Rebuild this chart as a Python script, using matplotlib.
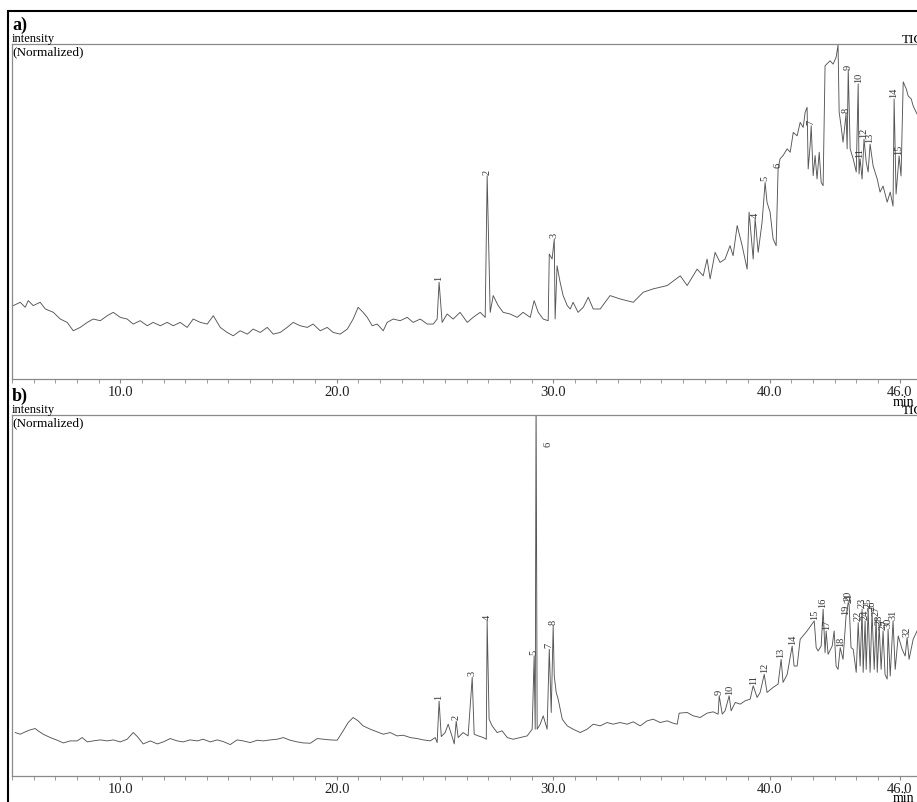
import matplotlib
matplotlib.use("Agg")
import matplotlib.pyplot as plt
from matplotlib.patches import Rectangle
from matplotlib.ticker import FixedLocator, MultipleLocator

# ---- data (time in min, intensity in % of panel height)
TIME_A = [5.06, 5.38, 5.61, 5.75, 5.98, 6.30, 6.54, 6.91, 7.23, 7.55, 7.83, 8.15, 8.48, 8.75,
          9.08, 9.40, 9.68, 10.00, 10.32, 10.60, 10.92, 11.25, 11.52, 11.85, 12.17, 12.45,
          12.77, 13.09, 13.37, 13.70, 14.02, 14.30, 14.62, 14.94, 15.22, 15.54, 15.87, 16.14,
          16.47, 16.79, 17.07, 17.39, 17.71, 17.99, 18.31, 18.64, 18.91, 19.24, 19.56, 19.84,
          20.16, 20.49, 20.76, 20.99, 21.22, 21.41, 21.64, 21.87, 22.15, 22.33, 22.61, 22.93,
          23.26, 23.53, 23.86, 24.18, 24.46, 24.64, 24.73, 24.87, 25.10, 25.38, 25.70, 26.03,
          26.30, 26.63, 26.86, 26.95, 27.09, 27.23, 27.46, 27.69, 28.01, 28.34, 28.61, 28.94,
          29.12, 29.31, 29.54, 29.77, 29.82, 29.95, 30.05, 30.09, 30.18, 30.32, 30.46, 30.65,
          30.79, 30.92, 31.15, 31.39, 31.62, 31.85, 32.17, 32.63, 33.09, 33.70, 34.16, 34.62,
          35.27, 35.87, 36.19, 36.65, 36.93, 37.11, 37.25, 37.48, 37.71, 37.94, 38.17, 38.31,
          38.50, 38.73, 38.96, 39.05, 39.24, 39.33, 39.47, 39.65, 39.79, 39.88, 40.02, 40.16,
          40.30, 40.39, 40.48, 40.62, 40.81, 40.95, 41.09, 41.27, 41.41, 41.55, 41.64, 41.73,
          41.78, 41.87, 41.92, 42.01, 42.10, 42.19, 42.29, 42.38, 42.47, 42.56, 42.79, 42.93,
          43.07, 43.16, 43.21, 43.30, 43.39, 43.53, 43.58, 43.63, 43.72, 43.86, 44.00, 44.09,
          44.13, 44.18, 44.27, 44.36, 44.46, 44.55, 44.64, 44.78, 44.97, 45.10, 45.24, 45.43,
          45.57, 45.70, 45.75, 45.84, 45.98, 46.07, 46.17, 46.31, 46.40, 46.54, 46.63, 46.81]
INT_A = [21.9, 22.9, 21.4, 23.4, 21.9, 22.9, 20.9, 19.9, 17.9, 16.9, 14.4, 15.4, 16.9, 17.9,
         17.4, 18.9, 19.9, 18.4, 17.9, 16.4, 17.4, 15.9, 16.9, 15.9, 16.9, 15.9,
         16.9, 15.4, 17.9, 16.9, 16.4, 18.9, 15.4, 13.9, 12.9, 14.4, 13.4, 14.9,
         13.9, 15.4, 13.4, 13.9, 15.4, 16.9, 15.9, 15.4, 16.4, 14.4, 15.4, 13.9,
         13.4, 14.9, 17.9, 21.4, 19.9, 18.4, 15.9, 16.4, 14.4, 16.9, 17.9, 17.4,
         18.4, 16.9, 17.9, 16.4, 16.4, 17.9, 28.9, 16.9, 19.4, 17.9, 19.9, 16.9,
         18.4, 19.9, 18.4, 60.7, 19.9, 24.9, 21.9, 19.9, 19.4, 18.4, 19.9, 18.4,
         23.4, 19.9, 17.9, 17.4, 37.3, 35.8, 41.8, 17.9, 33.8, 28.9, 24.9, 21.9,
         20.9, 22.9, 19.9, 21.4, 24.4, 20.9, 20.9, 24.9, 23.9, 22.9, 25.9, 26.9,
         27.9, 30.8, 27.9, 32.8, 30.8, 35.8, 29.9, 37.8, 34.8, 35.8, 39.8, 36.8,
         45.8, 39.8, 32.8, 49.8, 35.8, 47.8, 37.8, 46.8, 58.7, 52.7, 49.8, 41.8,
         39.8, 62.7, 65.7, 66.7, 68.7, 67.7, 73.6, 72.6, 76.6, 75.1, 79.6, 81.1,
         62.7, 69.7, 75.6, 60.7, 66.7, 59.7, 67.7, 58.7, 57.7, 93.5, 95.0, 94.0,
         96.0, 99.7, 79.7, 75.5, 70.7, 79.1, 68.7, 92.5, 68.7, 65.7, 61.8, 88.1,
         61.2, 65.7, 59.7, 71.6, 64.8, 61.8, 70.1, 63.6, 59.7, 55.8, 57.6, 52.8,
         55.8, 51.6, 83.6, 55.2, 66.6, 60.6, 88.7, 86.6, 84.5, 83.6, 81.5, 79.1]

PEAK_NO_A = list(range(1, 16))
PEAK_T_A = [24.73, 26.95, 30.05, 39.33, 39.79, 40.39, 41.92, 43.53, 43.63, 44.09,
            44.18, 44.36, 44.64, 45.75, 45.98]
PEAK_H_A = [28.9, 60.7, 41.8, 47.8, 58.7, 62.7, 75.6, 79.1, 92.5, 88.1,
            65.7, 71.6, 70.1, 83.6, 66.6]

TIME_B = [5.15, 5.38, 5.61, 5.84, 6.07, 6.21, 6.44, 6.77, 7.09, 7.37, 7.69, 8.01, 8.24, 8.48,
          8.75, 9.08, 9.40, 9.68, 10.00, 10.32, 10.60, 10.79, 11.06, 11.39, 11.71, 11.99,
          12.31, 12.63, 12.91, 13.23, 13.56, 13.83, 14.16, 14.48, 14.76, 15.08, 15.40, 15.68,
          16.00, 16.33, 16.61, 16.93, 17.25, 17.53, 17.85, 18.18, 18.45, 18.78, 19.10, 19.38,
          19.70, 20.02, 20.25, 20.53, 20.76, 20.99, 21.22, 21.55, 21.87, 22.15, 22.47, 22.79,
          23.07, 23.40, 23.72, 24.00, 24.32, 24.55, 24.64, 24.73, 24.83, 25.01, 25.15, 25.33,
          25.43, 25.52, 25.61, 25.84, 26.07, 26.26, 26.35, 26.54, 26.77, 26.91, 26.95, 27.04,
          27.18, 27.41, 27.64, 27.88, 28.15, 28.48, 28.80, 29.03, 29.12, 29.17, 29.21, 29.26,
          29.40, 29.54, 29.72, 29.82, 29.91, 30.00, 30.05, 30.14, 30.23, 30.42, 30.65, 30.92,
          31.25, 31.57, 31.85, 32.17, 32.49, 32.77, 33.09, 33.42, 33.70, 34.02, 34.34, 34.62,
          34.94, 35.27, 35.54, 35.73, 35.82, 36.19, 36.47, 36.79, 37.11, 37.39, 37.62, 37.67,
          37.81, 37.94, 38.13, 38.22, 38.41, 38.64, 38.87, 39.10, 39.24, 39.42, 39.56, 39.75,
          39.88, 40.16, 40.39, 40.53, 40.62, 40.81, 41.04, 41.13, 41.27, 41.41, 41.73, 42.01,
          42.06, 42.15, 42.24, 42.38, 42.47, 42.56, 42.61, 42.70, 42.89, 42.98, 43.07, 43.16,
          43.26, 43.39, 43.53, 43.63, 43.67, 43.76, 43.86, 44.00, 44.09, 44.18, 44.27, 44.32,
          44.41, 44.46, 44.55, 44.64, 44.73, 44.83, 44.92, 44.97, 45.06, 45.15, 45.24, 45.33,
          45.43, 45.47, 45.57, 45.70, 45.80, 45.94, 46.12, 46.26, 46.35, 46.44, 46.63, 46.81]
INT_B = [13.0, 12.5, 13.2, 13.8, 14.2, 13.5, 12.5, 11.5, 10.7, 9.9, 10.5, 10.5, 11.5, 10.2,
         10.5, 10.8, 10.5, 10.8, 10.2, 11.0, 13.0, 11.8, 9.6, 10.5, 9.6, 10.2,
         11.2, 10.5, 10.2, 10.8, 10.5, 11.0, 10.2, 10.8, 10.3, 9.4, 10.8, 10.5,
         10.0, 10.7, 10.5, 10.8, 11.0, 11.5, 10.7, 10.2, 9.9, 9.8, 11.2, 11.0,
         10.8, 10.7, 13.0, 16.0, 17.5, 16.5, 15.0, 14.0, 13.2, 12.5, 13.0, 12.0,
         12.2, 11.5, 11.2, 10.8, 10.5, 11.5, 10.0, 22.4, 11.8, 13.0, 15.5, 11.8,
         9.6, 16.4, 11.5, 13.0, 12.0, 29.5, 12.5, 12.0, 11.5, 11.0, 46.4, 17.0,
         15.0, 13.0, 13.5, 11.5, 11.0, 11.5, 12.0, 14.0, 35.9, 14.0, 115.0, 14.0,
         15.5, 18.0, 14.0, 37.9, 19.0, 44.9, 29.9, 25.0, 23.0, 17.0, 15.0, 14.0,
         13.0, 14.0, 15.5, 15.0, 16.0, 15.5, 16.0, 15.5, 16.2, 15.0, 16.5, 17.0,
         16.0, 16.5, 15.8, 15.5, 18.8, 19.0, 18.0, 17.5, 18.8, 19.2, 18.5, 24.0,
         18.5, 19.5, 24.0, 19.5, 22.0, 21.5, 22.5, 23.0, 27.0, 23.5, 25.0, 30.4,
         25.0, 26.5, 27.5, 34.9, 28.0, 30.4, 38.9, 32.9, 32.9, 40.9, 43.4, 45.9,
         46.4, 38.4, 37.4, 38.9, 49.9, 36.9, 43.4, 36.4, 38.9, 43.4, 32.9, 31.9,
         38.4, 34.9, 47.9, 51.9, 51.3, 38.4, 37.9, 31.0, 45.9, 32.9, 49.9, 31.0,
         46.4, 31.9, 49.9, 31.0, 48.9, 31.9, 47.4, 31.0, 44.9, 31.9, 43.4, 30.4,
         29.0, 43.9, 29.9, 46.4, 31.9, 41.9, 37.9, 35.9, 41.4, 34.9, 40.9, 43.4]

PEAK_NO_B = list(range(1, 33))
PEAK_T_B = [24.73, 25.52, 26.26, 26.95, 29.12, 29.77, 29.82, 30.00, 37.67, 38.13,
            39.24, 39.75, 40.53, 41.04, 42.06, 42.47, 42.61, 43.26, 43.53, 43.63,
            43.67, 44.09, 44.27, 44.41, 44.55, 44.73, 44.92, 45.06, 45.24, 45.47,
            45.70, 46.35]
PEAK_H_B = [22.4, 16.4, 29.5, 46.4, 35.9, 98.0, 37.9, 44.9, 24.0, 24.0,
            27.0, 30.4, 34.9, 38.9, 46.4, 49.9, 43.4, 38.4, 47.9, 51.9,
            51.3, 45.9, 49.9, 46.4, 49.9, 48.9, 47.4, 44.9, 43.4, 43.9,
            46.4, 41.4]

TICK_POS = [10, 20, 30, 40, 46]
TICK_LAB = ["10.0", "20.0", "30.0", "40.0", "46.0"]

# ---- layout (pixels of the 917 x 803 canvas)
W, H = 917, 803
SERIF = "Liberation Serif"
TRACE = "#555555"
FRAME = "#8a8a8a"

fig = plt.figure(figsize=(W / 100, H / 100), dpi=100)


def px_axes(left, top, right, bottom):
    return fig.add_axes([left / W, 1 - bottom / H, (right - left) / W, (bottom - top) / H])


def ftext(x, y, s, **kw):
    kw.setdefault("family", SERIF)
    kw.setdefault("va", "center")
    fig.text(x / W, 1 - y / H, s, **kw)


def panel(ax, t, inten, nos, pt, ph, ytop):
    ax.plot(t, inten, color=TRACE, lw=0.65, clip_on=True)
    for n, x, y in zip(nos, pt, ph):
        ax.annotate(str(n), (x, min(y, ytop - 8)), xytext=(0, 1.5),
                    textcoords="offset points", rotation=90,
                    ha="center", va="bottom", fontsize=7.5, family=SERIF,
                    color="#333333", annotation_clip=False)
    ax.set_xlim(5.0, 47.5)
    ax.set_ylim(0, ytop)
    ax.set_yticks([])
    ax.spines["right"].set_visible(False)
    for s in ("left", "top", "bottom"):
        ax.spines[s].set_color(FRAME)
        ax.spines[s].set_linewidth(0.9)
    ax.xaxis.set_major_locator(FixedLocator(TICK_POS))
    ax.set_xticklabels(TICK_LAB, family=SERIF)
    ax.xaxis.set_minor_locator(MultipleLocator(1))
    ax.tick_params(axis="x", which="both", direction="out", length=3,
                   color=FRAME, labelsize=10.5, pad=1, labelcolor="#222222")


ax_a = px_axes(12, 45, 932, 380)
panel(ax_a, TIME_A, INT_A, PEAK_NO_A, PEAK_T_A, PEAK_H_A, 100)

ax_b = px_axes(12, 416, 932, 777)
panel(ax_b, TIME_B, INT_B, PEAK_NO_B, PEAK_T_B, PEAK_H_B, 108)

# headers
for y0, tag in ((45, "a)"), (416, "b)")):
    ftext(12, y0 - 20, tag, fontsize=13, fontweight="bold")
    ftext(12, y0 - 6, "intensity", fontsize=9)
    ftext(12, y0 + 7, "(Normalized)", fontsize=9.5)
    ftext(902, y0 - 5, "TIC", fontsize=9.5)
ftext(893, 403, "min", fontsize=10)
ftext(893, 799, "min", fontsize=10)

# outer black frame (cut by the right and bottom edges)
fig.add_artist(Rectangle((8 / W, -0.05), 1.1, 1 - 12 / H + 0.05, transform=fig.transFigure,
                         fill=False, edgecolor="black", lw=1.5))

fig.savefig("out.png", dpi=100)
